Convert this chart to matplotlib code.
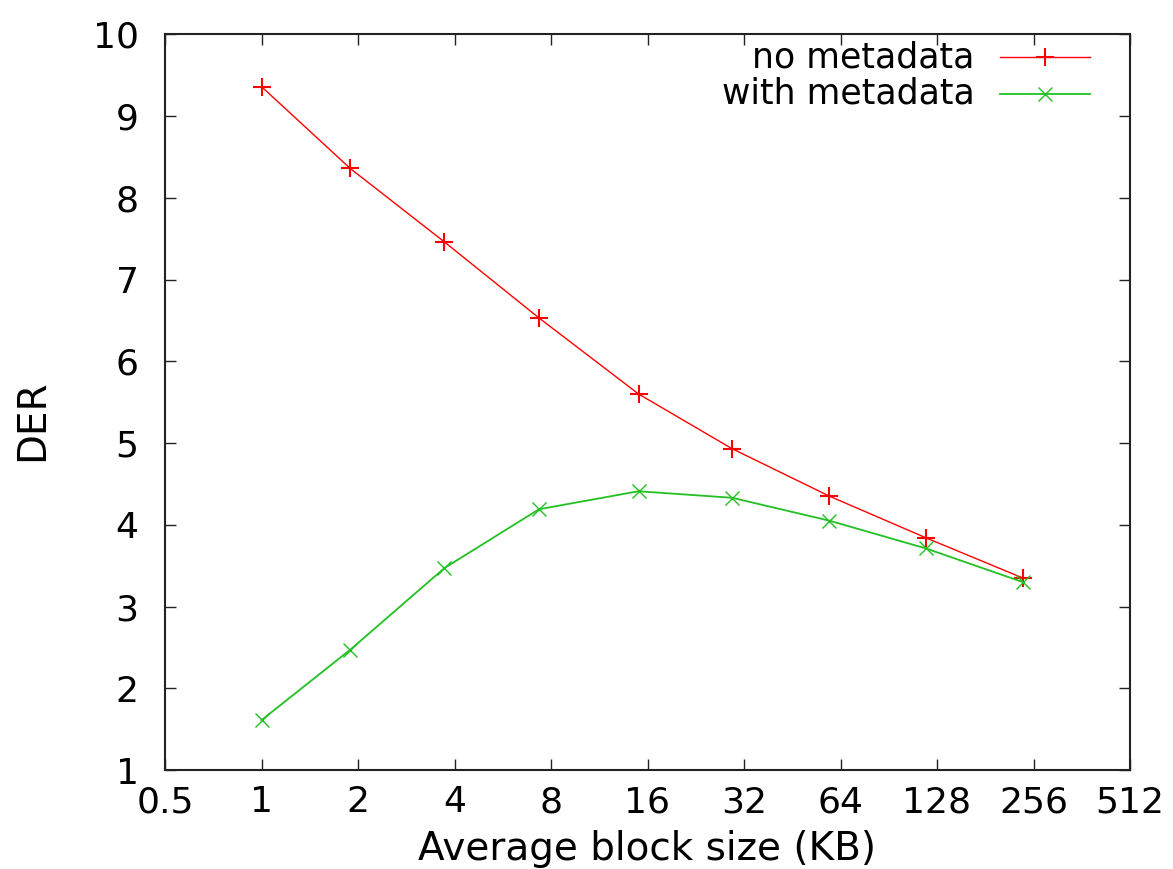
import matplotlib
matplotlib.use("Agg")
import matplotlib.pyplot as plt
from matplotlib.lines import Line2D

# Data
block_size = [1, 1.89, 3.72, 7.34, 15.0, 29.4, 59.1, 118.3, 236.6]
der_no_meta = [9.36, 8.36, 7.46, 6.53, 5.60, 4.93, 4.35, 3.84, 3.35]
der_with_meta = [1.61, 2.47, 3.47, 4.19, 4.41, 4.33, 4.05, 3.71, 3.30]
series_labels = ["no metadata", "with metadata"]
x_ticks = [0.5, 1, 2, 4, 8, 16, 32, 64, 128, 256, 512]
x_tick_labels = ["0.5", "1", "2", "4", "8", "16", "32", "64", "128", "256", "512"]
y_ticks = [1, 2, 3, 4, 5, 6, 7, 8, 9, 10]

plt.rcParams['font.family'] = ['DejaVu Sans']
fig = plt.figure(figsize=(11.73, 8.69), dpi=100)
ax = fig.add_axes([165/1173, 1-770/869, (1130-165)/1173, (770-34.3)/869])

red = "#ff0000"
green = "#22c022"
ax.plot(block_size, der_no_meta, color=red, lw=1.0, marker="+", ms=13, mew=1.5)
ax.plot(block_size, der_with_meta, color=green, lw=1.3, marker="x", ms=10, mew=1.0)

ax.set_xscale("log", base=2)
ax.set_xlim(0.5, 512)
ax.set_ylim(1, 10)
ax.set_xticks(x_ticks)
ax.set_xticklabels(x_tick_labels)
ax.minorticks_off()
ax.set_yticks(y_ticks)
ax.set_yticklabels([str(v) for v in y_ticks])

ax.tick_params(axis="both", which="both", direction="in", top=True, right=True,
               length=8, width=1.0, labelsize=26, color="#222222")
ax.tick_params(axis="x", pad=11)
ax.tick_params(axis="y", pad=19)
for s in ax.spines.values():
    s.set_linewidth(1.5)
    s.set_color("#222222")

ax.set_xlabel("Average block size (KB)", fontsize=28, labelpad=8)
ax.set_ylabel("DER", fontsize=28, labelpad=26)
ax.yaxis.set_label_coords(-0.118, 0.476)

# manual gnuplot-style legend (right-aligned text, sample on the right)
leg = [(series_labels[0], red, "+", 13, 1.5, 1.0, 0.969),
       (series_labels[1], green, "x", 10, 1.0, 1.3, 0.919)]
for lab, col, mk, ms, mew, lw, yy in leg:
    ax.text(0.839, yy, lab, transform=ax.transAxes, ha="right", va="center", fontsize=25)
    ax.add_line(Line2D([0.865, 0.959], [yy, yy], transform=ax.transAxes, color=col, lw=lw))
    ax.add_line(Line2D([0.912], [yy], transform=ax.transAxes, color=col, marker=mk,
                       ms=ms, mew=mew, lw=0))

fig.savefig("out.png", dpi=100)
